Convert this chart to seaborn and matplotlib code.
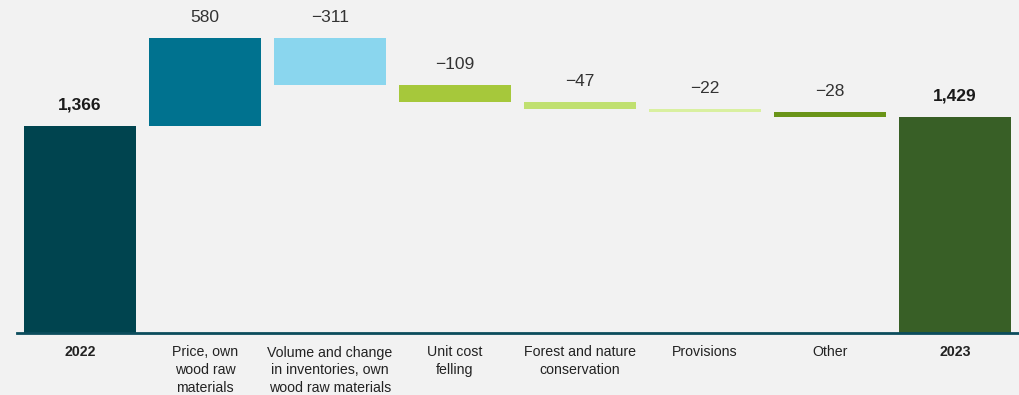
import matplotlib
matplotlib.use("Agg")
import matplotlib.pyplot as plt
import seaborn as sns
import numpy as np
import pandas as pd

categories = ["2022", "Price, own\nwood raw\nmaterials", "Volume and change\nin inventories, own\nwood raw materials",
              "Unit cost\nfelling", "Forest and nature\nconservation", "Provisions", "Other", "2023"]
values = [1366, 580, -311, -109, -47, -22, -28, 1429]
is_total = [True, False, False, False, False, False, False, True]
value_labels = ["1,366", "580", "\u2212311", "\u2212109", "\u221247", "\u221222", "\u221228", "1,429"]
colors = ["#00444F", "#00728F", "#8AD6EE", "#A6C83B", "#C0E070", "#D9F0A0", "#6A9418", "#385F26"]

# waterfall geometry from values
bottoms, heights = [], []
running = 0
for v, t in zip(values, is_total):
    if t:
        bottoms.append(0); heights.append(v); running = v
    else:
        if v >= 0:
            bottoms.append(running); heights.append(v)
        else:
            bottoms.append(running + v); heights.append(-v)
        running += v
tops = [b + h for b, h in zip(bottoms, heights)]

sns.set_theme(style="white")
plt.rcParams['font.family'] = ['Liberation Sans', 'DejaVu Sans']

bg = "#F2F2F2"
fig = plt.figure(figsize=(10.2, 3.95), dpi=100, facecolor=bg)
ax = fig.add_axes([17/1020, (395-333)/395, 1003/1020, 333/395])
ax.set_facecolor(bg)

df = pd.DataFrame({"cat": categories, "height": heights})
sns.barplot(data=df, x="cat", y="height", hue="cat", palette=colors, order=categories,
            hue_order=categories, legend=False, width=0.896, ax=ax, saturation=1, dodge=False)

for p in ax.patches:
    i = int(round(p.get_x() + p.get_width() / 2))
    p.set_y(bottoms[i])
    p.set_height(heights[i])
    p.set_edgecolor("none")

for i, lab in enumerate(value_labels):
    ax.annotate(lab, (i, tops[i]), xytext=(0, 9.5), textcoords="offset points",
                ha="center", va="bottom", fontsize=12.5,
                fontweight="bold" if is_total[i] else "normal",
                color="#1A1A1A" if is_total[i] else "#333333")

ax.set_xlim(-0.504, 7.52)
ax.set_ylim(0, 2198)
for s in ["top", "right", "left"]:
    ax.spines[s].set_visible(False)
ax.spines["bottom"].set_color("#0B4C5C")
ax.spines["bottom"].set_linewidth(2)
ax.set_yticks([])
ax.set_xlabel(""); ax.set_ylabel("")
ax.tick_params(axis="x", length=0, pad=9)
ax.set_xticks(range(len(categories)))
ax.set_xticklabels(categories, fontsize=10.2, color="#222222", linespacing=1.36)
for i, t in enumerate(ax.get_xticklabels()):
    if is_total[i]:
        t.set_fontweight("bold")

fig.savefig("out.png", dpi=100, facecolor=bg)
